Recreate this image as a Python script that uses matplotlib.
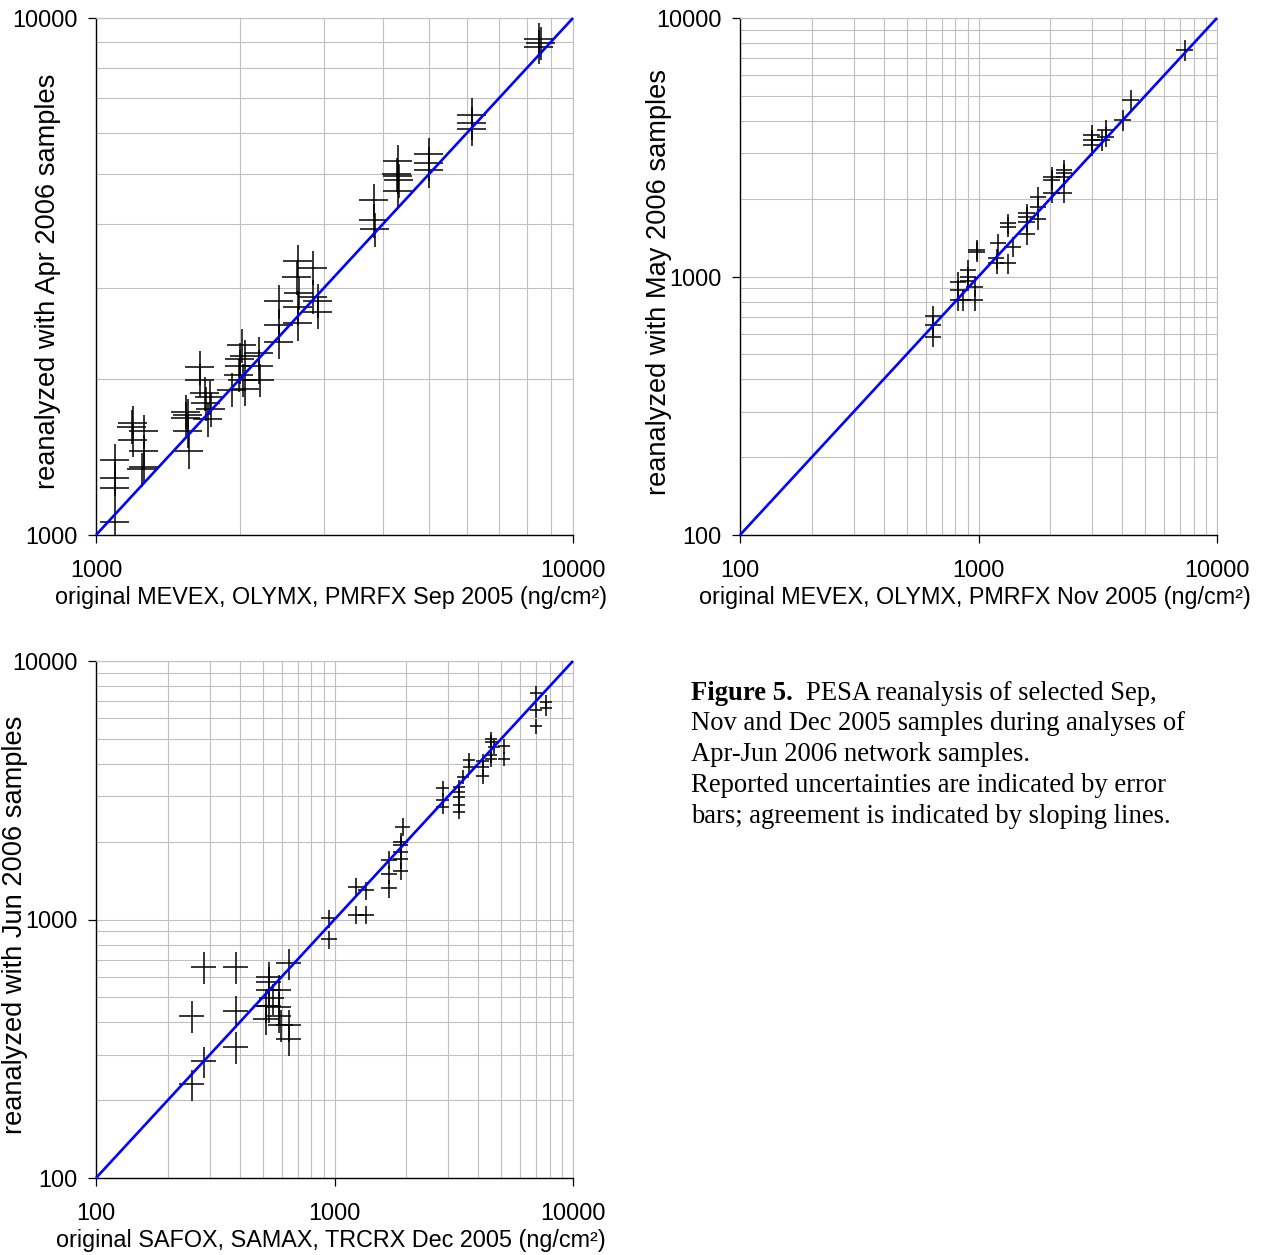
import matplotlib
matplotlib.use("Agg")
import matplotlib.pyplot as plt
import numpy as np
from matplotlib.ticker import LogLocator, FixedLocator, NullFormatter, FixedFormatter

# ---------------- data ----------------
# Panel 1: Sep 2005 originals vs Apr 2006 reanalysis (ng/cm2)
sep_x = [8500, 8550, 8480, 6140, 6150, 6130, 4990, 5000, 4980,
         4290, 4280, 4300, 4310, 4300, 3830, 3830, 3840,
         2650, 2640, 2660, 2650, 2655, 2850, 2850, 2916, 2916,
         2415, 2415, 2420, 2200, 2200, 2210,
         2020, 2050, 2000, 1990, 2030, 2050, 1930, 2000,
         1650, 1650, 1690, 1730, 1700, 1740, 1720,
         1544, 1560, 1544, 1560, 1570, 1194, 1190, 1194,
         1259, 1259, 1259, 1250, 1098, 1098, 1098, 1098]
sep_y = [9100, 8950, 8800, 6500, 6270, 6100, 5460, 5240, 5075,
         5280, 4990, 4940, 4850, 4630, 4450, 4060, 3900,
         3390, 3155, 2940, 2760, 2570, 3290, 2890, 2840, 2700,
         2830, 2550, 2365, 2250, 2120, 1995,
         2330, 2220, 2120, 2040, 1995, 1920, 1910, 2190,
         2110, 1995, 1880, 1846, 1800, 1750, 1675,
         1732, 1706, 1681, 1590, 1453, 1650, 1620, 1527,
         1587, 1453, 1355, 1340, 1396, 1287, 1231, 1058]
sep_xerr_pct = 7.0
sep_yerr_pct = 7.5

# Panel 2: Nov 2005 originals vs May 2006 reanalysis
nov_x = [7345, 4357, 4024, 3414, 3414, 2983, 2983, 2983, 3299,
         2291, 2291, 2291, 2291, 2027, 2027, 2027, 1781, 1781, 1781,
         1592, 1592, 1592, 1592, 1334, 1334, 1396, 1211, 1190, 1190, 1334,
         983, 983, 906, 906, 906, 823, 823, 823, 967, 967, 862,
         647, 647, 647]
nov_y = [7518, 4816, 4031, 3687, 3478, 3527, 3373, 3227, 3373,
         2582, 2506, 2432, 2111, 2432, 2364, 2111, 2035, 1862, 1669,
         1756, 1703, 1629, 1460, 1606, 1558, 1303, 1343, 1175, 1124, 1124,
         1247, 1270, 1059, 1000, 964, 955, 887, 811, 811, 914, 811,
         703, 649, 585]
nov_xerr_pct = 8.0
nov_yerr_pct = 9.0

# Panel 3: Dec 2005 originals vs Jun 2006 reanalysis
dec_x = [6998, 6998, 6998, 7706, 7706, 4531, 4531, 4664, 4531, 4531,
         5152, 5152, 4180, 4180, 4180, 3674, 3674, 3456,
         3338, 3338, 3338, 3338, 3338, 2841, 2841, 2841,
         1932, 1900, 1900, 1900, 1900, 1900, 1697, 1697, 1697,
         1231, 1356, 1231, 1356, 951, 951,
         647, 284.6, 386, 533, 533, 533, 550, 533, 587, 587, 587,
         517, 517, 647, 647, 597, 386, 386, 252.6, 284.6, 252.6]
dec_y = [7499, 6462, 5606, 6962, 6560, 4993, 4874, 4661, 4329, 4165,
         4677, 4182, 4115, 3879, 3587, 4133, 3895, 3566,
         3265, 3121, 2985, 2773, 2612, 3216, 2899, 2731,
         2286, 2000, 1941, 1829, 1710, 1545, 1699, 1496, 1320,
         1339, 1298, 1041, 1041, 1010, 838,
         677, 657, 657, 601, 574, 534, 495, 463, 534, 460, 423,
         463, 414, 391, 345, 391, 444, 322, 423, 283, 230]
dec_xerr_pct = [6.0] * 26 + [7.5] * 15 + [12.0] * 21
dec_yerr_pct = [6.5] * 26 + [8.0] * 15 + [14.0] * 21

panels = [
    dict(x=sep_x, y=sep_y, xe=sep_xerr_pct, ye=sep_yerr_pct, lim=(1000, 10000),
         xlabel="original MEVEX, OLYMX, PMRFX Sep 2005 (ng/cm²)",
         ylabel="reanalyzed with Apr 2006 samples",
         rect=[96, 18, 573, 535], ylx=-0.100),
    dict(x=nov_x, y=nov_y, xe=nov_xerr_pct, ye=nov_yerr_pct, lim=(100, 10000),
         xlabel="original MEVEX, OLYMX, PMRFX Nov 2005 (ng/cm²)",
         ylabel="reanalyzed with May 2006 samples",
         rect=[740, 18, 1217, 535], ylx=-0.170),
    dict(x=dec_x, y=dec_y, xe=dec_xerr_pct, ye=dec_yerr_pct, lim=(100, 10000),
         xlabel="original SAFOX, SAMAX, TRCRX Dec 2005 (ng/cm²)",
         ylabel="reanalyzed with Jun 2006 samples",
         rect=[96, 661, 573, 1178], ylx=-0.170),
]

caption_bold = "Figure 5."
caption_first = "PESA reanalysis of selected Sep,"
caption_lines = ["Nov and Dec 2005 samples during analyses of",
                 "Apr-Jun 2006 network samples.",
                 "Reported uncertainties are indicated by error",
                 "bars; agreement is indicated by sloping lines."]

# ---------------- drawing ----------------
W, H = 1264, 1255
fig = plt.figure(figsize=(W / 100, H / 100), dpi=100)
plt.rcParams['font.family'] = ['Liberation Sans', 'DejaVu Sans']

GRID = '#c0c0c0'
FS = 16.8
YFS = 19.6

for p in panels:
    l, t, r, b = p['rect']
    ax = fig.add_axes([l / W, 1 - b / H, (r - l) / W, (b - t) / H])
    ax.set_xscale('log')
    ax.set_yscale('log')
    lo, hi = p['lim']
    ax.set_xlim(lo, hi)
    ax.set_ylim(lo, hi)

    x = np.array(p['x'], float)
    y = np.array(p['y'], float)
    xe = x * np.array(p['xe'], float) / 100.0
    ye = y * np.array(p['ye'], float) / 100.0
    ax.errorbar(x, y, xerr=xe, yerr=ye, fmt='none', ecolor='black',
                elinewidth=1.1, capsize=0, zorder=3)
    ax.plot([lo, hi], [lo, hi], color='#0000ff', lw=1.9, zorder=4,
            solid_capstyle='butt', clip_on=False)

    decades = [lo * 10 ** k for k in range(int(round(np.log10(hi / lo))) + 1)]
    for axis in (ax.xaxis, ax.yaxis):
        axis.set_major_locator(FixedLocator(decades))
        axis.set_major_formatter(FixedFormatter([str(int(d)) for d in decades]))
        axis.set_minor_locator(LogLocator(base=10, subs=np.arange(2, 10)))
        axis.set_minor_formatter(NullFormatter())
    ax.grid(True, which='both', color=GRID, lw=0.8, zorder=0)
    ax.set_axisbelow(True)
    ax.tick_params(which='major', direction='out', length=6, width=0.9,
                   labelsize=FS, color='black')
    ax.tick_params(axis='x', which='major', pad=11)
    ax.tick_params(axis='y', which='major', pad=7)
    ax.tick_params(which='minor', length=0)
    for s in ('top', 'right'):
        ax.spines[s].set_color(GRID)
        ax.spines[s].set_linewidth(0.8)
    for s in ('left', 'bottom'):
        ax.spines[s].set_color('black')
        ax.spines[s].set_linewidth(1.0)

    ax.set_xlabel(p['xlabel'], fontsize=FS)
    ax.set_ylabel(p['ylabel'], fontsize=YFS)
    ax.xaxis.label.set_va('center')
    ax.yaxis.label.set_va('center')
    ax.xaxis.set_label_coords(0.493, -0.12)
    ax.yaxis.set_label_coords(p['ylx'], 0.49)

# caption
serif = ['Liberation Serif', 'DejaVu Serif']
CFS = 19.2
y0 = 693
dy = 30.8
fig.text(691 / W, 1 - y0 / H, caption_bold, fontsize=CFS, family=serif,
         fontweight='bold', va='center', ha='left')
fig.text(806 / W, 1 - y0 / H, caption_first, fontsize=CFS, family=serif,
         va='center', ha='left')
for i, line in enumerate(caption_lines):
    fig.text(691 / W, 1 - (y0 + dy * (i + 1)) / H, line, fontsize=CFS,
             family=serif, va='center', ha='left')

fig.savefig('out.png', dpi=100, facecolor='white')
